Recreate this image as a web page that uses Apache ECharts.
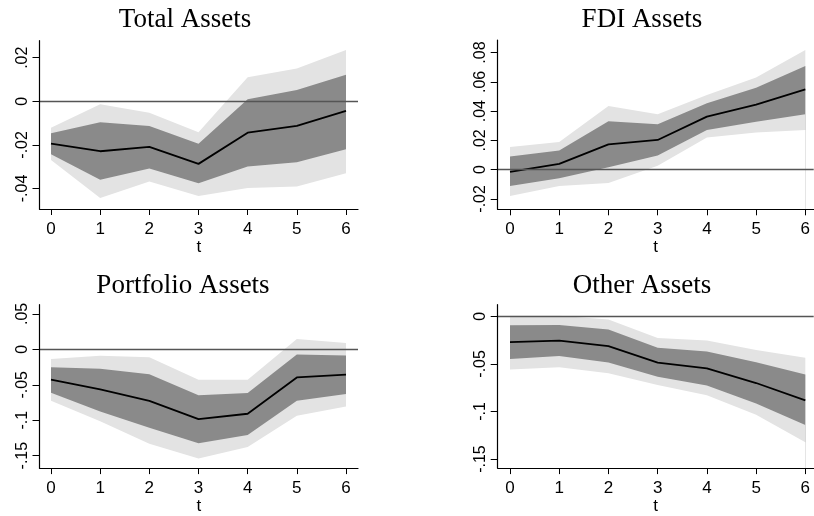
<!DOCTYPE html>
<html>
<head>
<meta charset="utf-8">
<script src="https://cdn.jsdelivr.net/npm/echarts@6/dist/echarts.min.js"></script>
<style>
  html, body { margin: 0; padding: 0; background: #fff; }
  #chart { width: 814px; height: 516px; }
</style>
</head>
<body>
<div id="chart"></div>
<script>
// horizon t = 0..6
var steps = [0, 1, 2, 3, 4, 5, 6];

// Total Assets
var totalMid     = [-0.0194, -0.0229, -0.0209, -0.0287, -0.0144, -0.0113, -0.0044];
var totalDarkHi  = [-0.0147, -0.0096, -0.0113, -0.0195,  0.0009,  0.0052,  0.0122];
var totalDarkLo  = [-0.0243, -0.0360, -0.0308, -0.0376, -0.0299, -0.0279, -0.0220];
var totalLightHi = [-0.0121, -0.0014, -0.0053, -0.0142,  0.0110,  0.0150,  0.0235];
var totalLightLo = [-0.0269, -0.0444, -0.0368, -0.0434, -0.0398, -0.0391, -0.0330];
var totalTicks   = [-0.04, -0.02, 0, 0.02];

// FDI Assets
var fdiMid     = [-0.0016, 0.0039, 0.0173, 0.0203, 0.0362, 0.0444, 0.0549];
var fdiDarkHi  = [ 0.0089, 0.0130, 0.0330, 0.0310, 0.0453, 0.0560, 0.0708];
var fdiDarkLo  = [-0.0112, -0.0059, 0.0016, 0.0096, 0.0271, 0.0328, 0.0378];
var fdiLightHi = [ 0.0155, 0.0189, 0.0435, 0.0378, 0.0510, 0.0630, 0.0818];
var fdiLightLo = [-0.0180, -0.0112, -0.0091, 0.0027, 0.0219, 0.0253, 0.0271];
var fdiTicks   = [-0.02, 0, 0.02, 0.04, 0.06, 0.08];

// Portfolio Assets
var portMid     = [-0.0429, -0.0566, -0.0726, -0.0986, -0.0909, -0.0397, -0.0356];
var portDarkHi  = [-0.0251, -0.0274, -0.0352, -0.0648, -0.0616, -0.0073, -0.0087];
var portDarkLo  = [-0.0612, -0.0877, -0.1105, -0.1324, -0.1210, -0.0726, -0.0630];
var portLightHi = [-0.0137, -0.0091, -0.0110, -0.0429, -0.0429,  0.0146,  0.0091];
var portLightLo = [-0.0726, -0.1014, -0.1333, -0.1539, -0.1379, -0.0936, -0.0808];
var portTicks   = [-0.15, -0.1, -0.05, 0, 0.05];

// Other Assets
var otherMid     = [-0.0272, -0.0255, -0.0313, -0.0486, -0.0548, -0.0701, -0.0884];
var otherDarkHi  = [-0.0095, -0.0092, -0.0139, -0.0330, -0.0371, -0.0483, -0.0612];
var otherDarkLo  = [-0.0449, -0.0418, -0.0486, -0.0636, -0.0728, -0.0915, -0.1143];
var otherLightHi = [ 0.0007,  0.0007, -0.0034, -0.0228, -0.0255, -0.0354, -0.0435];
var otherLightLo = [-0.0558, -0.0534, -0.0599, -0.0721, -0.0830, -0.1034, -0.1323];
var otherTicks   = [-0.15, -0.1, -0.05, 0];

var titles = ['Total Assets', 'FDI Assets', 'Portfolio Assets', 'Other Assets'];

var LIGHT = '#e3e3e3';
var DARK = '#8a8a8a';
var SANS = 'Liberation Sans, Arial, sans-serif';

var panels = [
    { mid: totalMid, dHi: totalDarkHi, dLo: totalDarkLo, lHi: totalLightHi, lLo: totalLightLo, ticks: totalTicks,
      grid: { left: 39.5, top: 40.7, width: 318.5, height: 168.3 }, ymin: -0.0494, ymax: 0.0278, xmin: -0.234, xmax: 6.244, tx: 180, ty: 1 },
    { mid: fdiMid, dHi: fdiDarkHi, dLo: fdiDarkLo, lHi: fdiLightHi, lLo: fdiLightLo, ticks: fdiTicks,
      grid: { left: 497.7, top: 40, width: 316, height: 169.3 }, ymin: -0.0271, ymax: 0.0886, xmin: -0.25, xmax: 6.17, tx: 637, ty: 1 },
    { mid: portMid, dHi: portDarkHi, dLo: portDarkLo, lHi: portLightHi, lLo: portLightLo, ticks: portTicks,
      grid: { left: 39.5, top: 304.7, width: 318.5, height: 168.3 }, ymin: -0.1676, ymax: 0.063, xmin: -0.234, xmax: 6.244, tx: 178, ty: 267 },
    { mid: otherMid, dHi: otherDarkHi, dLo: otherDarkLo, lHi: otherLightHi, lLo: otherLightLo, ticks: otherTicks,
      grid: { left: 497.7, top: 304.7, width: 316, height: 168.3 }, ymin: -0.1595, ymax: 0.0122, xmin: -0.25, xmax: 6.17, tx: 637, ty: 267 }
];

function pairs(arr) {
    return steps.map(function (t, k) { return [t, arr[k]]; });
}

function stataLabel(v) {
    var s = String(+v.toFixed(3));
    return s.replace('0.', '.');
}

function band(i, arr, color) {
    return {
        type: 'line', xAxisIndex: i, yAxisIndex: i,
        data: pairs(arr), showSymbol: false, silent: true,
        lineStyle: { opacity: 0 },
        areaStyle: { color: color, origin: 'start', opacity: 1 }
    };
}

var option = {
    animation: false,
    backgroundColor: '#fff',
    title: [],
    grid: [],
    xAxis: [],
    yAxis: [],
    series: []
};

panels.forEach(function (p, i) {
    option.title.push({
        text: titles[i], left: p.tx, top: p.ty, textAlign: 'center',
        textStyle: { fontFamily: 'Liberation Serif, Times New Roman, serif', fontSize: 27, fontWeight: 'normal', color: '#000' }
    });
    option.grid.push(p.grid);
    option.xAxis.push({
        type: 'value', gridIndex: i, min: p.xmin, max: p.xmax, z: 5,
        name: 't', nameLocation: 'middle', nameGap: 28,
        nameTextStyle: { fontFamily: SANS, fontSize: 17, color: '#000' },
        axisLine: { show: true, onZero: false, lineStyle: { color: '#000', width: 1.2 } },
        axisTick: { show: true, length: 6, customValues: steps, lineStyle: { color: '#000' } },
        axisLabel: { customValues: steps, margin: 12, fontFamily: SANS, fontSize: 17, color: '#000' },
        splitLine: { show: false }
    });
    option.yAxis.push({
        type: 'value', gridIndex: i, min: p.ymin, max: p.ymax, z: 5,
        axisLine: { show: true, onZero: false, lineStyle: { color: '#000', width: 1.2 } },
        axisTick: { show: true, length: 7, customValues: p.ticks, lineStyle: { color: '#000' } },
        axisLabel: { customValues: p.ticks, rotate: 90, margin: 9, fontFamily: SANS, fontSize: 16, color: '#000',
                     formatter: stataLabel },
        splitLine: { show: false }
    });
    option.series.push(band(i, p.lHi, LIGHT));
    option.series.push(band(i, p.dHi, DARK));
    option.series.push(band(i, p.dLo, LIGHT));
    option.series.push(band(i, p.lLo, '#fff'));
    option.series.push({
        type: 'line', xAxisIndex: i, yAxisIndex: i,
        data: pairs(p.mid), showSymbol: false, silent: true,
        lineStyle: { color: '#000', width: 1.8 },
        markLine: {
            silent: true, symbol: 'none', label: { show: false },
            lineStyle: { color: '#555', width: 1.4, type: 'solid' },
            data: [{ yAxis: 0 }]
        }
    });
});

var chart = echarts.init(document.getElementById('chart'));
chart.setOption(option);
</script>
</body>
</html>
